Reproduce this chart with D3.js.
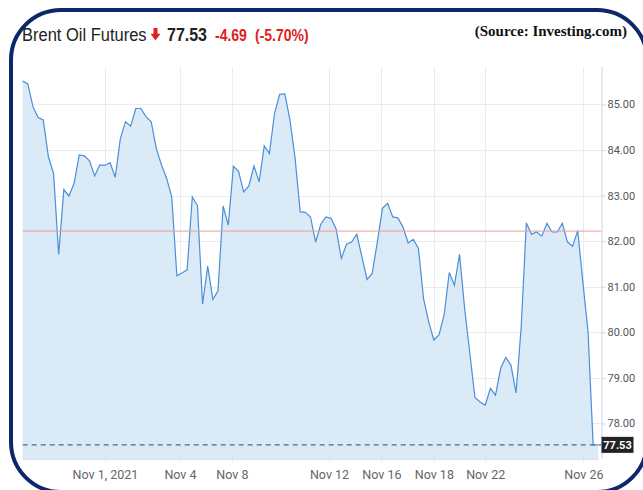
<!DOCTYPE html>
<html>
<head>
<meta charset="utf-8">
<script src="https://cdn.jsdelivr.net/npm/d3@7"></script>
<style>
body { margin: 0; background: #fff; }
svg { display: block; }
</style>
</head>
<body>
<div id="chart"></div>
<script>
// intraday-ish closes (evenly spaced samples)
var prices = [85.51, 85.45, 84.95, 84.71, 84.66, 83.85, 83.49, 81.71, 83.13, 82.99,
    83.27, 83.89, 83.87, 83.76, 83.43, 83.67, 83.66, 83.72, 83.40, 84.25,
    84.62, 84.52, 84.91, 84.91, 84.73, 84.62, 84.03, 83.67, 83.38, 82.97,
    81.24, 81.30, 81.37, 82.97, 82.78, 80.62, 81.45, 80.72, 80.91, 82.77,
    82.35, 83.64, 83.53, 83.08, 83.21, 83.65, 83.30, 84.09, 83.92, 84.80,
    85.22, 85.23, 84.66, 83.82, 82.64, 82.63, 82.53, 81.98, 82.37, 82.53,
    82.50, 82.26, 81.62, 81.93, 81.98, 82.15, 81.66, 81.16, 81.29, 81.98,
    82.72, 82.83, 82.53, 82.51, 82.31, 81.96, 82.04, 81.84, 80.74, 80.23,
    79.83, 79.94, 80.38, 81.31, 81.03, 81.71, 80.51, 79.54, 78.57, 78.47,
    78.40, 78.77, 78.62, 79.21, 79.45, 79.28, 78.67, 80.12, 82.40, 82.15,
    82.20, 82.11, 82.39, 82.20, 82.20, 82.39, 81.98, 81.89, 82.23, 81.10,
    80.01, 77.53, 77.53];

var tickPos = [16.0, 30.6, 40.7, 59.6, 69.8, 80.0, 90.0, 109.1];
var tickLabels = ['Nov 1, 2021', 'Nov 4', 'Nov 8', 'Nov 12', 'Nov 16', 'Nov 18', 'Nov 22', 'Nov 26'];
var yTicks = [78, 79, 80, 81, 82, 83, 84, 85];

var lastPrice = 77.53;
var prevClose = 82.22;
var change = '-4.69';
var changePct = '(-5.70%)';

var W = 643, H = 490;
var pLeft = 22.7, pRight = 601.5, pTop = 67, pBottom = 459;

var svg = d3.select('#chart').append('svg')
    .attr('width', W)
    .attr('height', H);

var x = d3.scaleLinear()
    .domain([0, prices.length - 1])
    .range([pLeft, 598.3]);

var y = d3.scaleLinear()
    .domain([77.22, 85.82])
    .range([pBottom, pTop]);

// grid
svg.append('g').selectAll('line')
    .data(yTicks)
    .enter()
    .append('line')
    .attr('x1', pLeft)
    .attr('x2', pRight)
    .attr('y1', d => Math.round(y(d)) + 0.5)
    .attr('y2', d => Math.round(y(d)) + 0.5)
    .attr('stroke', '#ececec');

svg.append('g').selectAll('line')
    .data(tickPos)
    .enter()
    .append('line')
    .attr('x1', d => Math.round(x(d)) + 0.5)
    .attr('x2', d => Math.round(x(d)) + 0.5)
    .attr('y1', pTop)
    .attr('y2', pBottom + 4)
    .attr('stroke', '#e8edf3');

// area + line
var area = d3.area()
    .x((d, i) => x(i))
    .y0(pBottom)
    .y1(d => y(d));

var line = d3.line()
    .x((d, i) => x(i))
    .y(d => y(d));

svg.append('path')
    .datum(prices)
    .attr('d', area)
    .attr('fill', '#d3e6f5')
    .attr('fill-opacity', 0.85);

svg.append('path')
    .datum(prices)
    .attr('d', line)
    .attr('fill', 'none')
    .attr('stroke', '#4b8fd8')
    .attr('stroke-width', 1.2);

// previous close
svg.append('line')
    .attr('x1', pLeft)
    .attr('x2', pRight)
    .attr('y1', y(prevClose))
    .attr('y2', y(prevClose))
    .attr('stroke', '#f19a9a')
    .attr('stroke-width', 1);

// last price dashed
svg.append('line')
    .attr('x1', pLeft)
    .attr('x2', pRight)
    .attr('y1', y(lastPrice))
    .attr('y2', y(lastPrice))
    .attr('stroke', '#56687a')
    .attr('stroke-width', 1.2)
    .attr('stroke-dasharray', '5,4');

// axes
var axR = d3.axisRight(y)
    .tickValues(yTicks)
    .tickSize(4)
    .tickFormat(d3.format('.2f'));

var gy = svg.append('g')
    .attr('transform', `translate(${pRight},0)`)
    .call(axR);
gy.select('.domain').attr('stroke', '#c9d6e8').attr('d', `M0.5,${pTop}V${pBottom}`);
gy.selectAll('.tick line').attr('stroke', '#c9d6e8');
gy.selectAll('text')
    .attr('x', 6)
    .style('font', '11px Roboto')
    .attr('fill', '#555');

var axB = d3.axisBottom(x)
    .tickValues(tickPos)
    .tickSize(0)
    .tickFormat((d, i) => tickLabels[i]);

var gx = svg.append('g')
    .attr('transform', `translate(0,${pBottom})`)
    .call(axB);
gx.select('.domain').attr('stroke', '#d6e2ef');
gx.selectAll('text')
    .attr('y', 11)
    .style('font', '12.5px Roboto')
    .attr('fill', '#666');

// price tag
svg.append('rect')
    .attr('x', pRight)
    .attr('y', y(lastPrice) - 8)
    .attr('width', 32)
    .attr('height', 16)
    .attr('fill', '#222');

svg.append('text')
    .attr('x', pRight + 16)
    .attr('y', y(lastPrice) + 4)
    .attr('text-anchor', 'middle')
    .style('font', 'bold 11px Roboto')
    .attr('fill', '#fff')
    .text(lastPrice.toFixed(2));

// header
var hdr = svg.append('g')
    .attr('transform', 'translate(0,41) scale(1,1.12)');

hdr.append('text')
    .attr('x', 22)
    .attr('y', 0)
    .style('font', '16.5px "Liberation Sans", Arial')
    .attr('fill', '#222')
    .text('Brent Oil Futures');

hdr.append('path')
    .attr('d', 'M153.5,-11.5h4v5h3l-5,6l-5,-6h3z')
    .attr('fill', '#e0201b');

hdr.append('text')
    .attr('x', 167)
    .attr('y', 0)
    .style('font', 'bold 16px "Liberation Sans", Arial')
    .attr('fill', '#222')
    .text(lastPrice.toFixed(2));

hdr.append('text')
    .attr('x', 215)
    .attr('y', 0)
    .style('font', 'bold 14px "Liberation Sans", Arial')
    .attr('fill', '#e0201b')
    .text(change);

hdr.append('text')
    .attr('x', 255)
    .attr('y', 0)
    .style('font', 'bold 14px "Liberation Sans", Arial')
    .attr('fill', '#e0201b')
    .text(changePct);

svg.append('text')
    .attr('x', 627)
    .attr('y', 36)
    .attr('text-anchor', 'end')
    .style('font', 'bold 15px "Liberation Serif", serif')
    .attr('fill', '#111')
    .text('(Source: Investing.com)');

// frame
svg.append('rect')
    .attr('x', 11)
    .attr('y', 10)
    .attr('width', 636)
    .attr('height', 482)
    .attr('rx', 50)
    .attr('fill', 'none')
    .attr('stroke', '#0c2868')
    .attr('stroke-width', 4);
</script>
</body>
</html>
